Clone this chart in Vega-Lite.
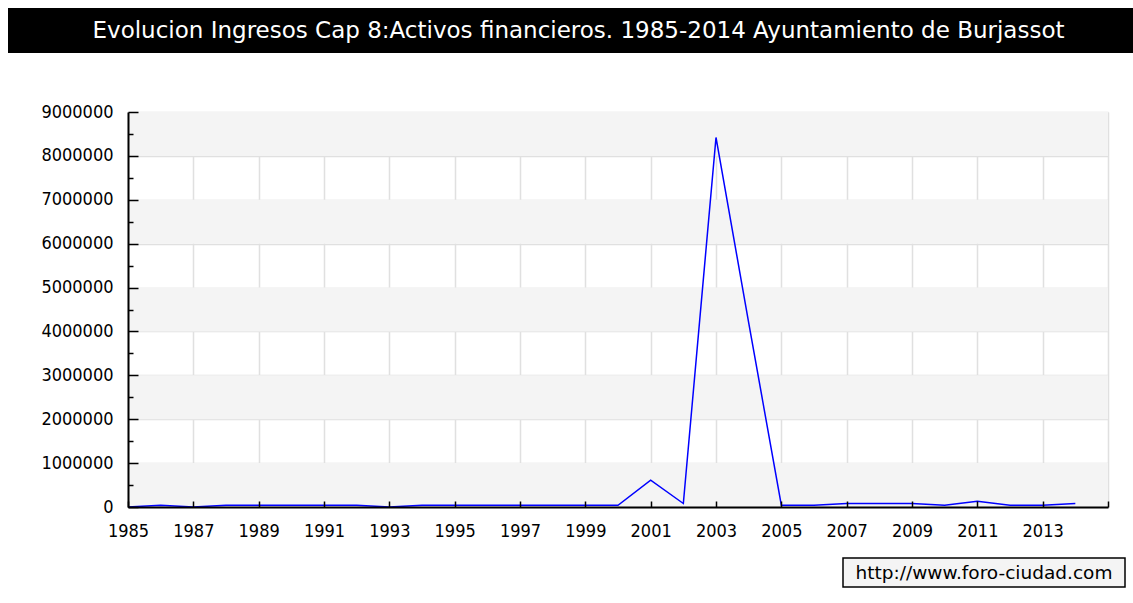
{
  "$schema": "https://vega.github.io/schema/vega-lite/v6.json",
  "background": "white",
  "padding": {"left": 8, "top": 8, "right": 0, "bottom": 0},
  "config": {"font": "DejaVu Sans Condensed"},
  "spacing": 50,
  "vconcat": [
    {
      "width": 1005,
      "height": 45,
      "view": {"fill": "black", "stroke": null},
      "data": {"values": [{"t": "Evolucion Ingresos Cap 8:Activos financieros. 1985-2014 Ayuntamiento de Burjassot", "k": "a"}]},
      "mark": {"type": "text", "color": "white", "font": "DejaVu Sans", "fontSize": 23, "dx": -52},
      "encoding": {
        "text": {"field": "t"},
        "y": {
          "field": "k", "type": "nominal",
          "axis": {"title": null, "labels": false, "ticks": false, "grid": false, "domain": true, "domainColor": "black", "domainWidth": 240, "domainCap": "butt", "translate": 0, "minExtent": 120, "maxExtent": 120}
        }
      }
    },
    {
      "spacing": 17,
      "vconcat": [
        {
          "width": 980,
          "height": 395,
          "view": {"stroke": null, "fill": "white"},
          "resolve": {"axis": {"x": "independent", "y": "independent"}},
          "layer": [
            {
              "data": {"values": [
                {"lo": 0, "hi": 1000000},
                {"lo": 2000000, "hi": 3000000},
                {"lo": 4000000, "hi": 5000000},
                {"lo": 6000000, "hi": 7000000},
                {"lo": 8000000, "hi": 9000000}
              ]},
              "mark": {"type": "rect", "color": "#f4f4f4"},
              "encoding": {
                "x": {
                  "datum": 1985, "type": "quantitative",
                  "axis": {"orient": "top", "title": null, "labels": false, "ticks": false, "domain": false, "grid": true,
                    "values": [1985, 1987, 1989, 1991, 1993, 1995, 1997, 1999, 2001, 2003, 2005, 2007, 2009, 2011, 2013, 2015],
                    "gridColor": "#e0e0e0", "gridWidth": 1.5, "zindex": 0, "minExtent": 0, "maxExtent": 0}
                },
                "x2": {"datum": 2015},
                "y": {
                  "field": "lo", "type": "quantitative",
                  "axis": {"orient": "right", "title": null, "labels": false, "ticks": false, "domain": false, "grid": true,
                    "values": [0, 1000000, 2000000, 3000000, 4000000, 5000000, 6000000, 7000000, 8000000, 9000000],
                    "gridColor": "#e0e0e0", "gridWidth": 1.5, "zindex": 0, "minExtent": 0, "maxExtent": 0}
                },
                "y2": {"field": "hi"}
              }
            },
            {
              "data": {"values": [
                {"year": 1985, "value": 0},
                {"year": 1986, "value": 40000},
                {"year": 1987, "value": 0},
                {"year": 1988, "value": 40000},
                {"year": 1989, "value": 40000},
                {"year": 1990, "value": 40000},
                {"year": 1991, "value": 40000},
                {"year": 1992, "value": 40000},
                {"year": 1993, "value": 0},
                {"year": 1994, "value": 40000},
                {"year": 1995, "value": 40000},
                {"year": 1996, "value": 40000},
                {"year": 1997, "value": 40000},
                {"year": 1998, "value": 40000},
                {"year": 1999, "value": 40000},
                {"year": 2000, "value": 40000},
                {"year": 2001, "value": 610000},
                {"year": 2002, "value": 80000},
                {"year": 2003, "value": 8420000},
                {"year": 2004, "value": 4200000},
                {"year": 2005, "value": 40000},
                {"year": 2006, "value": 40000},
                {"year": 2007, "value": 80000},
                {"year": 2008, "value": 80000},
                {"year": 2009, "value": 80000},
                {"year": 2010, "value": 40000},
                {"year": 2011, "value": 130000},
                {"year": 2012, "value": 40000},
                {"year": 2013, "value": 40000},
                {"year": 2014, "value": 80000}
              ]},
              "mark": {"type": "line", "color": "#0000ff", "strokeWidth": 1.5},
              "encoding": {
                "x": {
                  "field": "year", "type": "quantitative",
                  "scale": {"domain": [1985, 2015], "nice": false, "zero": false},
                  "axis": {
                    "orient": "bottom",
                    "title": null,
                    "grid": false,
                    "zindex": 1,
                    "values": [1985, 1987, 1989, 1991, 1993, 1995, 1997, 1999, 2001, 2003, 2005, 2007, 2009, 2011, 2013, 2015],
                    "format": "d",
                    "labelExpr": "datum.value === 2015 ? '' : datum.label",
                    "labelFlush": false,
                    "labelOverlap": false,
                    "domain": true,
                    "domainColor": "black",
                    "domainWidth": 2,
                    "tickColor": "black",
                    "tickWidth": 1.5,
                    "tickSize": -6,
                    "labelPadding": 21,
                    "labelFontSize": 18,
                    "labelColor": "black"
                  }
                },
                "y": {
                  "field": "value", "type": "quantitative",
                  "scale": {"domain": [0, 9000000], "nice": false},
                  "axis": {
                    "orient": "left",
                    "title": null,
                    "grid": false,
                    "zindex": 1,
                    "values": [0, 500000, 1000000, 1500000, 2000000, 2500000, 3000000, 3500000, 4000000, 4500000, 5000000, 5500000, 6000000, 6500000, 7000000, 7500000, 8000000, 8500000, 9000000],
                    "format": "d",
                    "labelExpr": "datum.value % 1000000 === 0 ? datum.label : ''",
                    "labelOverlap": false,
                    "labelFlush": false,
                    "domainColor": "black",
                    "domainWidth": 2,
                    "tickColor": "black",
                    "tickWidth": 1.5,
                    "tickSize": {"condition": {"test": "datum.value % 1000000 === 0", "value": -10}, "value": -5},
                    "labelPadding": 25,
                    "labelFontSize": 18,
                    "labelColor": "black",
                    "minExtent": 120,
                    "maxExtent": 120
                  }
                }
              }
            }
          ]
        },
        {
          "spacing": 20,
          "hconcat": [
            {
              "width": 694,
              "height": 29,
              "view": {"stroke": null},
              "data": {"values": [{}]},
              "mark": {"type": "text"},
              "encoding": {"text": {"value": ""}}
            },
            {
              "width": 282,
              "height": 29,
              "view": {"fill": "#f4f4f4", "stroke": "black", "strokeWidth": 1.5},
              "data": {"values": [{"t": "http://www.foro-ciudad.com"}]},
              "mark": {"type": "text", "font": "DejaVu Sans", "fontSize": 18.5, "color": "black"},
              "encoding": {"text": {"field": "t"}}
            }
          ]
        }
      ]
    }
  ]
}
